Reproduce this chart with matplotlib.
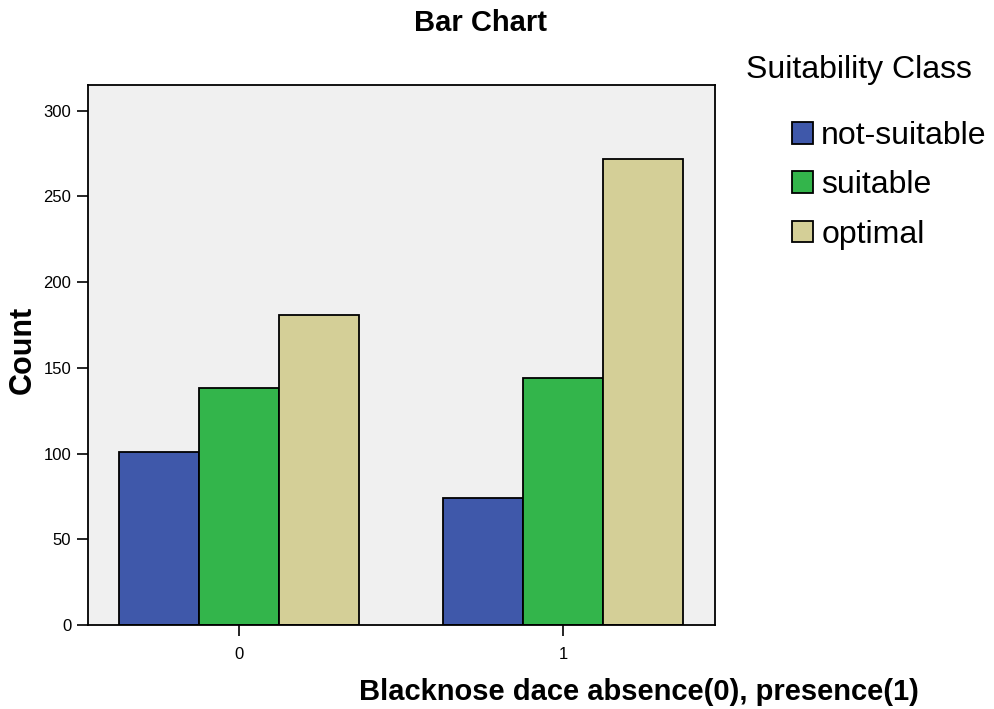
import matplotlib.pyplot as plt
import numpy as np

plt.rcParams['font.family'] = ['Liberation Sans', 'DejaVu Sans']

# data
groups = ['0', '1']
classes = ['not-suitable', 'suitable', 'optimal']
not_suitable = [101, 74]
suitable = [138, 144]
optimal = [181, 272]
colors = ['#3f58aa', '#33b54b', '#d4cf97']

fig = plt.figure(figsize=(9.94, 7.09), dpi=100)
ax = fig.add_axes([0.0885, 0.1185, 0.6308, 0.7616])
ax.set_facecolor('#f0f0f0')

x = np.arange(len(groups))
w = 0.247
bars = []
for i, vals in enumerate([not_suitable, suitable, optimal]):
    b = ax.bar(x + (i - 1) * w, vals, w, color=colors[i], edgecolor='black',
               linewidth=1.3, label=classes[i])
    bars.append(b)

ax.set_xlim(-0.466, 1.469)
ax.set_ylim(0, 315)
ax.set_yticks([0, 50, 100, 150, 200, 250, 300])
ax.set_xticks(x)
ax.set_xticklabels(groups)
ax.tick_params(axis='both', labelsize=12, length=8, width=1.2, pad=4)
ax.tick_params(axis='x', pad=8)
for s in ax.spines.values():
    s.set_linewidth(1.3)

fig.text(0.483, 0.968, 'Bar Chart', ha='center', va='center',
         fontsize=21, fontweight='bold')
fig.text(0.023, 0.506, 'Count', ha='center', va='center', rotation=90,
         fontsize=22, fontweight='bold')
fig.text(0.643, 0.024, 'Blacknose dace absence(0), presence(1)', ha='center',
         va='center', fontsize=21, fontweight='bold')

fig.text(0.750, 0.901, 'Suitability Class', ha='left', va='center', fontsize=23)
fig.legend(handles=bars, labels=classes, loc='upper left',
           bbox_to_anchor=(0.784, 0.847), frameon=False, fontsize=23,
           handlelength=0.66, handleheight=0.66, handletextpad=0.25,
           labelspacing=0.6, borderaxespad=0)

plt.savefig('out.png', dpi=100)
